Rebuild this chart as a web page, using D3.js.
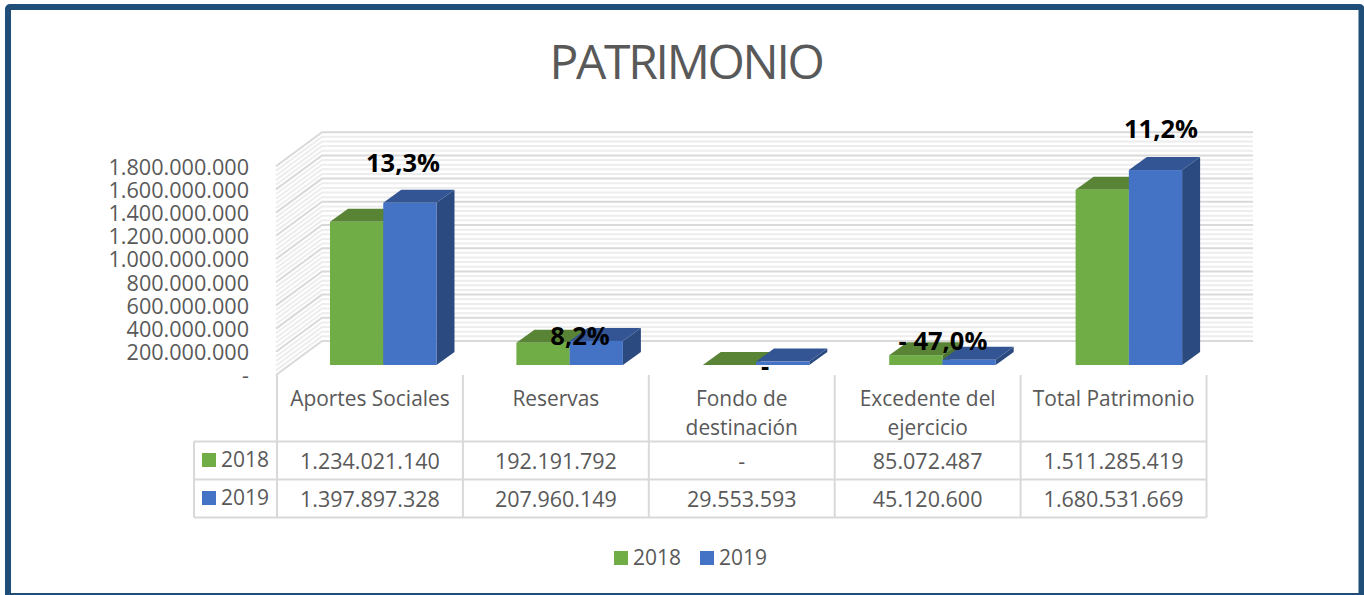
<!DOCTYPE html>
<html><head><meta charset="utf-8">
<script src="https://cdnjs.cloudflare.com/ajax/libs/d3/7.8.5/d3.min.js"></script>
<style>html,body{margin:0;padding:0;background:#fff;overflow:hidden}svg{display:block}text{font-family:"Open Sans",sans-serif}</style>
</head><body><svg id="c" width="1364" height="595"></svg>
<script>
const categories=[["Aportes Sociales"],["Reservas"],["Fondo de","destinación"],["Excedente del","ejercicio"],["Total Patrimonio"]];
const seriesNames=["2018","2019"];
const values2018=[1234021140,192191792,0,85072487,1511285419];
const values2019=[1397897328,207960149,29553593,45120600,1680531669];
const pctLabels=["13,3%","8,2%","-","- 47,0%","11,2%"];
const yTicks=[0,2e8,4e8,6e8,8e8,1e9,1.2e9,1.4e9,1.6e9,1.8e9];
const colors=["#70AD47","#4472C4"], topColors=["#5A8435","#335593"], sideColors=["#4E7530","#2B4A80"];

const svg=d3.select("#c");
const loc=d3.formatLocale({decimal:",",thousands:".",grouping:[3],currency:["",""]});
const fmt=v=>v?loc.format(",d")(v):"-";
const GRID="#D9D9D9",TXT="#595959";

// frame
svg.append("rect").attr("x",8).attr("y",7).attr("width",1353.5).attr("height",589).attr("rx",2).attr("fill","#fff").attr("stroke","#1F4E79").attr("stroke-width",6);
svg.append("text").attr("x",686).attr("y",79).attr("text-anchor","middle").attr("font-size",48).attr("font-weight",400).attr("letter-spacing",-2.3).attr("fill",TXT).text("PATRIMONIO");

// scales
const yBar=d3.scaleLinear().domain([0,1.8e9]).range([365,156.2]);
const yBack=d3.scaleLinear().domain([0,1.8e9]).range([341,132.2]);
const yFront=d3.scaleLinear().domain([0,1.8e9]).range([375,166.2]);
const xCat=d3.scaleBand().domain(d3.range(5)).range([277,1209]);
const xCol=d3.scaleBand().domain(d3.range(5)).range([277,1206.5]);
const xSer=d3.scaleBand().domain([0,1]).range([53,159.5]);
const wallL=276,wallB=322,wallR=1253,barDx=18,barDy=13;

// minor + major grid on walls
const g=svg.append("g");
const minor=d3.range(0,1.8e9+1,4e7);
minor.forEach(v=>{ if(v%2e8===0) return;
  g.append("path").attr("fill","none").attr("stroke","#EDEDED").attr("stroke-width",2)
   .attr("d",`M${wallL},${yFront(v)}L${wallB},${yBack(v)}L${wallR},${yBack(v)}`);
});
yTicks.forEach(v=>{
  g.append("path").attr("fill","none").attr("stroke",GRID).attr("stroke-width",2)
   .attr("d",`M${wallL},${yFront(v)}L${wallB},${yBack(v)}L${wallR},${yBack(v)}`);
});

// y axis
const ax=svg.append("g").attr("transform",`translate(${249},1)`).call(d3.axisLeft(yFront).tickValues(yTicks).tickSize(0).tickPadding(0).tickFormat(fmt));
ax.select(".domain").remove();
ax.selectAll("text").attr("font-size",21.6).attr("fill",TXT).attr("font-family",'"Open Sans",sans-serif');

// bars
const series=[values2018,values2019];
d3.range(5).forEach(i=>{
  [0,1].forEach(s=>{
    const w=xSer.bandwidth(),x0=xCat(i)+xSer(s),x1=x0+w,yT=yBar(series[s][i]),yB=yBar(0);
    const b=svg.append("g");
    b.append("path").attr("fill",sideColors[s]).attr("d",`M${x1},${yT}L${x1+barDx},${yT-barDy}L${x1+barDx},${yB-barDy}L${x1},${yB}Z`);
    b.append("path").attr("fill",topColors[s]).attr("d",`M${x0},${yT}L${x0+barDx},${yT-barDy}L${x1+barDx},${yT-barDy}L${x1},${yT}Z`);
    b.append("rect").attr("x",x0).attr("y",yT).attr("width",w).attr("height",yB-yT).attr("fill",colors[s]);
  });
});

// percent labels
const lblPos=[[403,172],[580,345],[765,375],[943,350],[1161,138]];
pctLabels.forEach((t,i)=>svg.append("text").attr("x",lblPos[i][0]).attr("y",lblPos[i][1]).attr("text-anchor","middle").attr("font-size",25.5).attr("font-weight",700).attr("fill","#000").text(t));

// data table
const colX=d3.range(6).map(i=>xCol(0)+i*xCol.step());
const rowY=[441.5,479.5,517.5],tl=194;
const t=svg.append("g").attr("stroke",GRID).attr("stroke-width",2).attr("fill","none");
colX.forEach(x=>t.append("line").attr("x1",x).attr("x2",x).attr("y1",375).attr("y2",rowY[2]));
t.append("line").attr("x1",tl).attr("x2",tl).attr("y1",rowY[0]).attr("y2",rowY[2]);
rowY.forEach(y=>t.append("line").attr("x1",tl).attr("x2",colX[5]).attr("y1",y).attr("y2",y));
const txt=(x,y,s,a="middle",fs=21.5)=>svg.append("text").attr("x",x).attr("y",y).attr("text-anchor",a).attr("font-size",fs).attr("fill",TXT).text(s);
categories.forEach((c,i)=>{
  const cx=xCol(i)+xCol.step()/2;
  c.forEach((l,j)=>txt(cx,405.5+j*29,l,"middle",20.9));
  series.forEach((vals,s)=>txt(cx,468.5+s*38,fmt(vals[i])));
});
seriesNames.forEach((n,s)=>{
  svg.append("rect").attr("x",202).attr("y",453+s*38).attr("width",14).attr("height",14).attr("fill",colors[s]);
  txt(221,467+s*38,n,"start",21);
  const lx=[614,700][s];
  svg.append("rect").attr("x",lx).attr("y",551).attr("width",14).attr("height",14).attr("fill",colors[s]);
  txt(lx+19,565,n,"start",21);
});
</script></body></html>
